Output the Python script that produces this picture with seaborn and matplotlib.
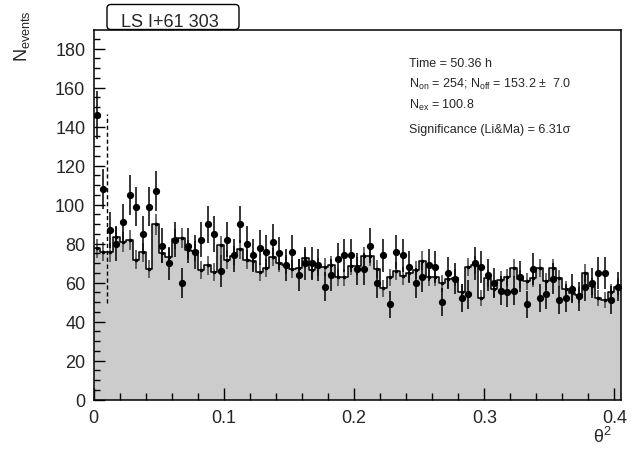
import numpy as np
import pandas as pd
import matplotlib
matplotlib.use("Agg")
import matplotlib.pyplot as plt
import matplotlib.patches as mpatches
import seaborn as sns

# theta^2 bins (width 0.005)
bin_width = 0.005
n_bins = 81

# ON counts per bin
on_counts = [146, 108, 87, 80, 91, 105, 99, 85, 99, 107,
             79, 70, 82, 60, 79, 76, 82, 90, 85, 66,
             82, 74, 90, 80, 74, 78, 76, 81, 75, 69,
             76, 64, 70, 70, 69, 58, 64, 72, 74, 74,
             67, 67, 79, 60, 74, 49, 76, 74, 68, 60,
             63, 69, 68, 50, 65, 62, 52, 54, 70, 68,
             64, 60, 56, 55, 56, 63, 49, 67, 52, 54,
             62, 51, 52, 57, 53, 58, 60, 65, 65, 51,
             58]

# normalised OFF counts per bin
off_counts = [77.6, 75.9, 75.6, 83.2, 81.0, 82.1, 71.8, 75.6, 67.0, 89.9,
              75.2, 73.2, 82.6, 82.7, 76.9, 76.2, 66.3, 68.9, 65.6, 79.1,
              71.8, 73.9, 77.1, 71.9, 71.3, 65.6, 67.4, 73.2, 70.3, 69.3,
              66.8, 67.7, 72.6, 66.7, 68.0, 68.0, 68.9, 62.7, 62.7, 68.6,
              68.5, 73.5, 73.5, 67.0, 57.1, 62.7, 66.2, 63.3, 65.0, 66.7,
              71.3, 62.7, 62.7, 59.8, 61.9, 62.6, 55.0, 67.9, 69.0, 52.1,
              62.2, 56.8, 61.4, 62.7, 67.4, 61.9, 60.7, 62.2, 67.4, 60.7,
              67.4, 62.2, 56.8, 54.5, 53.7, 65.0, 58.1, 52.0, 51.1, 55.0,
              57.9]

off_norm = 0.32  # on/off exposure ratio
theta2_cut = 0.01
cut_line = (49.5, 146.5)

stats_lines = [
    "Time = 50.36 h",
    r"N$_{\mathregular{on}}$ = 254; N$_{\mathregular{off}}$ = 153.2 ±  7.0",
    r"N$_{\mathregular{ex}}$ = 100.8",
    "Significance (Li&Ma) = 6.31σ",
]

sns.set_style("white")
plt.rcParams["font.family"] = ["Liberation Sans", "DejaVu Sans"]
plt.rcParams["mathtext.fontset"] = "custom"
plt.rcParams["mathtext.rm"] = "Liberation Sans"
plt.rcParams["mathtext.it"] = "Liberation Sans:italic"

edges = list(np.arange(n_bins + 1) * bin_width)
centers = np.arange(n_bins) * bin_width + bin_width / 2
df = pd.DataFrame({"theta2": centers, "on": on_counts, "off": off_counts})

fig = plt.figure(figsize=(6.36, 4.52), dpi=100)
ax = fig.add_axes([93.7 / 636, 1 - 400.7 / 452, (621 - 93.7) / 636, (400.7 - 31) / 452])

# OFF histogram: grey fill + black outline
sns.histplot(data=df, x="theta2", weights="off", bins=edges, element="step", fill=True,
             color="#cccccc", alpha=1, linewidth=0, ax=ax)
sns.histplot(data=df, x="theta2", weights="off", bins=edges, element="step", fill=False,
             color="black", linewidth=1.1, ax=ax)
ax.errorbar(df["theta2"], df["off"], yerr=np.sqrt(df["off"] * off_norm), fmt="o", ms=1.6,
            color="black", ecolor="#444444", elinewidth=1.1, capsize=0)

# cut line
ax.vlines(theta2_cut, cut_line[0], cut_line[1], colors="black",
          linestyles=(0, (3, 2)), linewidth=1.0)

# ON points
ax.errorbar(df["theta2"], df["on"], yerr=np.sqrt(df["on"]), fmt="o", ms=4.2, color="black",
            ecolor="black", elinewidth=1.1, capsize=0, zorder=5)

ax.set_xlim(0, n_bins * bin_width)
ax.set_ylim(0, 189.6)
ax.set_xticks([0, 0.1, 0.2, 0.3, 0.4])
ax.set_xticklabels(["0", "0.1", "0.2", "0.3", "0.4"])
ax.set_xticks(np.arange(0, 0.41, 0.02), minor=True)
ax.set_yticks(np.arange(0, 181, 20))
ax.set_yticks(np.arange(0, 190, 5), minor=True)
ax.tick_params(axis="both", which="both", direction="in", bottom=True, left=True,
               top=False, right=False, labelsize=13, color="black")
ax.tick_params(axis="x", which="major", length=9, width=1, pad=7)
ax.tick_params(axis="x", which="minor", length=5, width=1)
ax.tick_params(axis="y", which="major", length=8, width=1, pad=6)
ax.tick_params(axis="y", which="minor", length=4.5, width=1)
ax.set_xlabel("")
ax.set_ylabel("")
for s in ax.spines.values():
    s.set_color("black")
    s.set_linewidth(1.1)
ax.set_axisbelow(False)

# axis titles, ROOT style
fig.text(612 / 636, 1 - 443 / 452, "θ$^{2}$", fontsize=13, ha="right", va="baseline")
fig.text(22 / 636, 1 - 10 / 452, r"N$_{\mathregular{events}}$", fontsize=13,
         rotation=90, ha="center", va="top")

# statistics
for txt, yb in zip(stats_lines, [67.3, 88.3, 108.5, 133.5]):
    fig.text(409 / 636, 1 - yb / 452, txt, fontsize=9, ha="left", va="baseline")

# title box
box = mpatches.FancyBboxPatch((107 / 636, 1 - 30.5 / 452), 132 / 636, 25 / 452,
                              boxstyle="round,pad=0,rounding_size=0.006",
                              mutation_aspect=636 / 452, transform=fig.transFigure,
                              facecolor="white", edgecolor="black", linewidth=1.0)
fig.patches.append(box)
fig.text(170 / 636, 1 - 26.7 / 452, "LS I+61 303", fontsize=13, ha="center", va="baseline")

fig.savefig("out.png", dpi=100)
